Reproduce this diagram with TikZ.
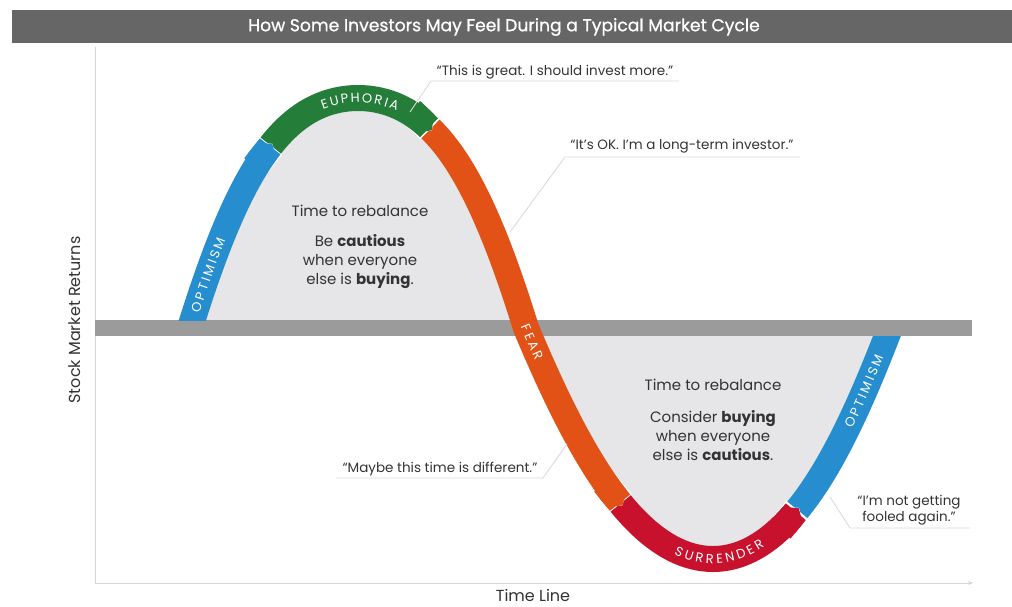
\documentclass[tikz,border=0pt]{standalone}
\usepackage{fontspec}
\setmainfont{Poppins}
\newfontfamily\ribbonfont{Poppins}[WordSpace=0.7]
\newfontfamily\titlefont{Poppins}[FakeBold=0.8]
\usetikzlibrary{arrows.meta,decorations.text}

\definecolor{barGray}{RGB}{102,102,102}
\definecolor{bandGray}{RGB}{155,155,155}
\definecolor{humpGray}{RGB}{230,230,232}
\definecolor{axisGray}{RGB}{212,212,212}
\definecolor{leadGray}{RGB}{218,218,218}
\definecolor{inkGray}{RGB}{51,51,51}
\definecolor{optBlue}{RGB}{38,141,206}
\definecolor{euGreen}{RGB}{37,125,58}
\definecolor{fearOrange}{RGB}{226,82,22}
\definecolor{surRed}{RGB}{200,18,45}

\begin{document}
\begin{tikzpicture}[x=1pt,y=-1pt,
  declare function={
    ux(\t)=190+336*\t;
    uy(\t)=328-230*sin(180*\t)*(1.5-0.5*sin(180*\t));
    lx(\t)=526+364*\t+5*sin(180*\t);
    ly(\t)=328+231*sin(180*\t)*(1.25-0.25*sin(180*\t));
  },
  ribbon/.style={line width=26pt},
  tipped/.style={-{Triangle Cap[length=0pt .35]}},
  rim/.style={white, line width=29pt, -{Triangle Cap[length=0pt .35]}},
  body/.style={font=\fontsize{15}{19}\selectfont, text=inkGray, align=center},
  quote/.style={font=\fontsize{13.5}{16}\selectfont, text=inkGray, align=center, inner sep=0pt},
  axislabel/.style={font=\fontsize{16}{19}\selectfont, text=inkGray, inner sep=0pt},
  leader/.style={draw=leadGray, line width=0.9pt},
  ribbonlabel/.style={decorate, decoration={text along path, text={|\ribbonfont\fontsize{13}{13}\selectfont|#1},
      text color=white, text align=center, raise=-4.5pt}}
]
\useasboundingbox (0,0) rectangle (1012,606);

% title bar
\fill[barGray] (12,10) rectangle (1012,43);
\node[font=\titlefont\fontsize{17.2}{20}\selectfont, text=white] (title) at (504,27)
  {How Some Investors May Feel During a Typical Market Cycle};

% axes
\coordinate (yTop) at (95,47);
\coordinate (origin) at (95,583);
\coordinate (xEnd) at (973,583);
\draw[axisGray, line width=1pt] (yTop) -- (origin);
\draw[axisGray, line width=1pt, -{Stealth[length=5pt,width=4pt]}] (origin) -- (xEnd);
\node[axislabel, rotate=90] (ylab) at (75,320) {Stock Market Returns};
\node[axislabel] (xlab) at (533,595) {Time Line};

% shaded areas between the curve and the zero line
\fill[humpGray] plot[domain=0:1, samples=90, variable=\t] ({ux(\t)},{uy(\t)}) -- cycle;
\fill[humpGray] plot[domain=0:1, samples=90, variable=\t] ({lx(\t)},{ly(\t)}) -- cycle;

% zero line
\fill[bandGray] (95,320) rectangle (972,336);

% ribbon: drawn back to front so each tip overlaps the next phase
\begin{scope}
  \clip (0,336) rectangle (1012,606);
  \draw[ribbon, optBlue] plot[domain=0.70:1, samples=40, variable=\t] ({lx(\t)},{ly(\t)});
\end{scope}
\draw[rim] plot[domain=0.725:0.74, samples=4, variable=\t] ({lx(\t)},{ly(\t)});
\draw[ribbon, surRed, tipped] plot[domain=0.235:0.74, samples=60, variable=\t] ({lx(\t)},{ly(\t)});
\draw[rim] plot[domain=0.24:0.255, samples=4, variable=\t] ({lx(\t)},{ly(\t)});
\draw[ribbon, fearOrange, tipped] plot[domain=0.70:1, samples=40, variable=\t] ({ux(\t)},{uy(\t)})
  -- plot[domain=0.002:0.255, samples=40, variable=\t] ({lx(\t)},{ly(\t)});
\draw[rim] plot[domain=0.705:0.72, samples=4, variable=\t] ({ux(\t)},{uy(\t)});
\draw[ribbon, euGreen, tipped] plot[domain=0.235:0.72, samples=60, variable=\t] ({ux(\t)},{uy(\t)});
\draw[rim] plot[domain=0.23:0.245, samples=4, variable=\t] ({ux(\t)},{uy(\t)});
\begin{scope}
  \clip (0,0) rectangle (1012,320);
  \draw[ribbon, optBlue, tipped] plot[domain=0:0.245, samples=40, variable=\t] ({ux(\t)},{uy(\t)});
\end{scope}

% phase names along the ribbon
\path[ribbonlabel={O P T I M I S M}] plot[domain=0.002:0.11, samples=30, variable=\t] ({ux(\t)},{uy(\t)});
\path[ribbonlabel={E U P H O R I A}] plot[domain=0.34:0.67, samples=40, variable=\t] ({ux(\t)},{uy(\t)});
\path[ribbonlabel={F E A R}] plot[domain=0.975:1, samples=8, variable=\t] ({ux(\t)},{uy(\t)})
  -- plot[domain=0.002:0.062, samples=20, variable=\t] ({lx(\t)},{ly(\t)});
\path[ribbonlabel={S U R R E N D E R}] plot[domain=0.31:0.72, samples=50, variable=\t] ({lx(\t)},{ly(\t)});
\path[ribbonlabel={O P T I M I S M}] plot[domain=0.845:0.998, samples=30, variable=\t] ({lx(\t)},{ly(\t)});

% advice inside the humps
\node[body] (upTime) at (360,211) {Time to rebalance};
\node[body] (upAdvice) at (360,262) {Be \textbf{cautious}\\when everyone\\else is \textbf{buying}.};
\node[body] (loTime) at (713,385) {Time to rebalance};
\node[body] (loAdvice) at (713,436) {Consider \textbf{buying}\\when everyone\\else is \textbf{cautious}.};

% investor quotes with leader lines
\node[quote] (q1) at (555,72) {“This is great. I should invest more.”};
\coordinate (q1a) at (431,81); \coordinate (q1b) at (679,81); \coordinate (q1c) at (410,112);
\draw[leader] (q1b) -- (q1a) -- (q1c);

\node[quote] (q2) at (682,146) {“It’s OK. I’m a long-term investor.”};
\coordinate (q2a) at (565,157); \coordinate (q2b) at (800,157); \coordinate (q2c) at (510,232);
\draw[leader] (q2b) -- (q2a) -- (q2c);

\node[quote] (q3) at (440,469) {“Maybe this time is different.”};
\coordinate (q3a) at (336,478); \coordinate (q3b) at (543,478); \coordinate (q3c) at (567,444);
\draw[leader] (q3a) -- (q3b) -- (q3c);

\node[quote] (q4) at (909,510) {“I’m not getting\\fooled again.”};
\coordinate (q4a) at (850,528); \coordinate (q4b) at (970,528); \coordinate (q4c) at (830,497);
\draw[leader] (q4b) -- (q4a) -- (q4c);
\end{tikzpicture}
\end{document}
